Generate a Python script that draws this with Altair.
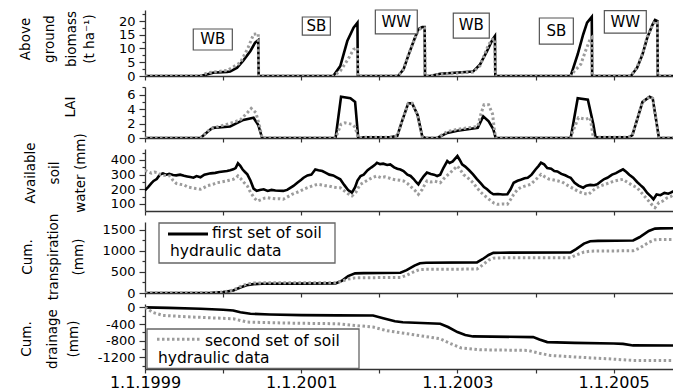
import altair as alt
import pandas as pd

FONT = "DejaVu Sans"

# ---------------- data (decimal years, values) ----------------
years = [1999, 2000, 2001, 2002, 2003, 2004, 2005]

bio_t1 = [1999.00, 1999.71, 1999.80, 1999.87, 2000.05, 2000.09, 2000.18, 2000.26, 2000.35, 2000.41, 2000.45, 2000.455,
          2001.41, 2001.50, 2001.59, 2001.67, 2001.72, 2001.725,
          2002.24, 2002.31, 2002.37, 2002.44, 2002.50, 2002.55, 2002.58, 2002.585,
          2002.65, 2002.78, 2003.20, 2003.29, 2003.38, 2003.45, 2003.48, 2003.485,
          2004.45, 2004.54, 2004.61, 2004.66, 2004.72, 2004.725,
          2005.22, 2005.30, 2005.37, 2005.43, 2005.50, 2005.53, 2005.56, 2005.565, 2005.86]
bio_v1 = [0, 0, 0.6, 1.2, 1.5, 1.6, 3.0, 5.7, 9.1, 12.1, 13.0, 0,
          0, 3.6, 12.7, 17.6, 19.4, 0,
          0, 2.4, 7.3, 12.7, 17.0, 17.8, 17.8, 0,
          0, 0.8, 1.6, 4.2, 9.1, 13.3, 14.5, 0,
          0, 7.9, 15.1, 19.4, 21.5, 0,
          0, 3.0, 7.9, 13.9, 18.8, 20.4, 20.0, 0, 0]
bio_t2 = [1999.00, 1999.71, 1999.80, 2000.05, 2000.22, 2000.32, 2000.39, 2000.45, 2000.455,
          2001.41, 2001.50, 2001.60, 2001.67, 2001.72, 2001.725,
          2002.24, 2002.31, 2002.37, 2002.44, 2002.50, 2002.55, 2002.58, 2002.585,
          2002.65, 2002.78, 2003.20, 2003.29, 2003.40, 2003.45, 2003.48, 2003.485,
          2004.45, 2004.48, 2004.58, 2004.64, 2004.70, 2004.72, 2004.725,
          2005.22, 2005.30, 2005.37, 2005.43, 2005.50, 2005.53, 2005.56, 2005.565, 2005.86]
bio_v2 = [0, 0, 1.2, 2.0, 4.8, 10.3, 15.2, 15.4, 0,
          0, 1.8, 6.1, 9.7, 10.3, 0,
          0, 2.6, 7.5, 12.5, 16.8, 17.5, 17.5, 0,
          0, 0.7, 1.4, 3.8, 11.5, 13.3, 13.5, 0,
          0, 1.2, 4.3, 9.1, 13.5, 14.0, 0,
          0, 3.2, 8.2, 14.2, 18.6, 19.8, 19.6, 0, 0]

lai_t1 = [1999.00, 1999.71, 1999.84, 1999.87, 2000.09, 2000.26, 2000.39, 2000.45, 2000.50,
          2001.44, 2001.51, 2001.63, 2001.69, 2001.73, 2001.76, 2001.80, 2002.14, 2002.23, 2002.29, 2002.37,
          2002.42, 2002.49, 2002.55, 2002.59, 2002.74, 2002.87, 2003.00, 2003.26, 2003.33, 2003.40, 2003.46,
          2003.49, 2004.45, 2004.54, 2004.67, 2004.74, 2004.77, 2004.80, 2005.19, 2005.24, 2005.37, 2005.46,
          2005.50, 2005.58, 2005.86]
lai_v1 = [0, 0, 1.2, 1.4, 1.6, 2.5, 2.8, 1.8, 0,
          0, 5.7, 5.5, 5.0, 0, 0, 0.1, 0.1, 0.3, 2.3, 4.8,
          4.8, 3.2, 0.2, 0, 0, 0.7, 1.0, 1.4, 3.0, 2.3, 1.2,
          0, 0, 5.5, 5.3, 1.9, 0, 0.1, 0.1, 0.4, 5.0, 5.7,
          5.5, 0, 0]
lai_t2 = [1999.00, 1999.71, 1999.84, 2000.05, 2000.22, 2000.31, 2000.36, 2000.42, 2000.47, 2000.50,
          2001.44, 2001.51, 2001.56, 2001.65, 2001.69, 2001.73, 2001.76, 2001.80, 2002.14, 2002.23, 2002.29,
          2002.37, 2002.42, 2002.49, 2002.55, 2002.59, 2002.74, 2002.87, 2003.00, 2003.26, 2003.30, 2003.34,
          2003.40, 2003.45, 2003.47, 2003.49, 2004.45, 2004.48, 2004.55, 2004.64, 2004.70, 2004.74, 2004.77,
          2004.80, 2005.19, 2005.24, 2005.37, 2005.46, 2005.50, 2005.58, 2005.86]
lai_v2 = [0, 0, 1.3, 1.9, 2.5, 3.5, 4.1, 3.5, 1.5, 0,
          0, 1.9, 2.1, 1.9, 1.5, 0, 0, 0.1, 0.1, 0.3, 2.3,
          4.8, 4.8, 3.2, 0.2, 0, 0, 0.9, 1.2, 1.6, 3.3, 4.6,
          4.6, 3.3, 1.4, 0, 0, 1.0, 2.8, 2.6, 2.8, 0, 0,
          0.1, 0.1, 0.4, 5.0, 5.7, 5.5, 0, 0]

sw_t1 = [1999.00, 1999.04, 1999.08, 1999.11, 1999.15, 1999.19, 1999.23, 1999.27, 1999.31, 1999.36, 1999.40,
         1999.45, 1999.50, 1999.54, 1999.58, 1999.62, 1999.66, 1999.71, 1999.76, 1999.80, 1999.84, 1999.90,
         1999.95, 2000.00, 2000.05, 2000.09, 2000.13, 2000.16, 2000.19, 2000.22, 2000.25, 2000.28, 2000.31,
         2000.35, 2000.39, 2000.43, 2000.47, 2000.52, 2000.57, 2000.62, 2000.67, 2000.72, 2000.77, 2000.82,
         2000.86, 2000.90, 2000.95, 2001.00, 2001.03, 2001.08, 2001.13, 2001.18, 2001.22, 2001.27, 2001.31,
         2001.36, 2001.41, 2001.46, 2001.50, 2001.55, 2001.60, 2001.65, 2001.69, 2001.72, 2001.76, 2001.80,
         2001.85, 2001.90, 2001.94, 2001.97, 2002.01, 2002.05, 2002.10, 2002.14, 2002.19, 2002.23, 2002.27,
         2002.31, 2002.36, 2002.40, 2002.44, 2002.47, 2002.50, 2002.53, 2002.57, 2002.61, 2002.66, 2002.70,
         2002.74, 2002.78, 2002.82, 2002.87, 2002.90, 2002.94, 2003.00, 2003.03, 2003.06, 2003.10, 2003.15,
         2003.20, 2003.25, 2003.30, 2003.34, 2003.38, 2003.42, 2003.46, 2003.52, 2003.58, 2003.64, 2003.68,
         2003.72, 2003.77, 2003.81, 2003.86, 2003.90, 2003.95, 2004.00, 2004.04, 2004.07, 2004.11, 2004.15,
         2004.20, 2004.24, 2004.28, 2004.33, 2004.38, 2004.42, 2004.45, 2004.50, 2004.55, 2004.61, 2004.65,
         2004.70, 2004.75, 2004.79, 2004.84, 2004.88, 2004.92, 2004.98, 2005.03, 2005.08, 2005.12, 2005.16,
         2005.20, 2005.25, 2005.30, 2005.34, 2005.38, 2005.43, 2005.48, 2005.51, 2005.55, 2005.60, 2005.65,
         2005.70, 2005.73, 2005.76, 2005.80, 2005.86]
sw_v1 = [192, 215, 240, 257, 270, 300, 309, 300, 305, 298, 295,
         300, 292, 288, 284, 279, 290, 282, 300, 305, 309, 312,
         318, 322, 325, 330, 336, 345, 377, 360, 335, 318, 302,
         260, 205, 190, 195, 200, 189, 196, 192, 190, 189, 196,
         210, 223, 245, 265, 279, 295, 300, 336, 330, 325, 314,
         300, 295, 280, 268, 230, 195, 177, 215, 260, 291, 300,
         330, 350, 365, 381, 372, 375, 366, 370, 350, 340, 335,
         325, 300, 291, 270, 250, 234, 260, 290, 314, 305, 300,
         291, 300, 345, 393, 380, 390, 427, 400, 370, 355, 330,
         302, 270, 240, 215, 200, 180, 166, 168, 165, 166, 200,
         245, 258, 265, 275, 279, 300, 335, 360, 381, 370, 345,
         340, 325, 322, 305, 296, 285, 279, 245, 225, 211, 225,
         230, 228, 234, 255, 270, 279, 300, 310, 325, 336, 320,
         300, 279, 250, 230, 211, 175, 150, 132, 165, 160, 175,
         170, 177, 185, 192, 200]
sw_t2 = [1999.00, 1999.04, 1999.08, 1999.12, 1999.16, 1999.20, 1999.25, 1999.29, 1999.32, 1999.36, 1999.40,
         1999.45, 1999.50, 1999.55, 1999.60, 1999.65, 1999.71, 1999.75, 1999.80, 1999.84, 1999.87, 1999.92,
         1999.98, 2000.03, 2000.08, 2000.13, 2000.17, 2000.19, 2000.23, 2000.27, 2000.31, 2000.35, 2000.40,
         2000.44, 2000.49, 2000.53, 2000.57, 2000.62, 2000.67, 2000.72, 2000.77, 2000.83, 2000.88, 2000.94,
         2000.99, 2001.05, 2001.10, 2001.15, 2001.21, 2001.26, 2001.31, 2001.36, 2001.41, 2001.46, 2001.50,
         2001.55, 2001.60, 2001.65, 2001.70, 2001.73, 2001.76, 2001.81, 2001.86, 2001.91, 2001.97, 2002.02,
         2002.07, 2002.12, 2002.16, 2002.21, 2002.26, 2002.31, 2002.36, 2002.41, 2002.46, 2002.50, 2002.55,
         2002.58, 2002.61, 2002.66, 2002.71, 2002.78, 2002.82, 2002.87, 2002.91, 2002.95, 2003.00, 2003.04,
         2003.08, 2003.14, 2003.20, 2003.25, 2003.30, 2003.34, 2003.38, 2003.43, 2003.47, 2003.51, 2003.57,
         2003.64, 2003.68, 2003.72, 2003.77, 2003.82, 2003.88, 2003.94, 2003.98, 2004.03, 2004.07, 2004.12,
         2004.17, 2004.22, 2004.29, 2004.34, 2004.40, 2004.45, 2004.50, 2004.55, 2004.61, 2004.68, 2004.73,
         2004.78, 2004.84, 2004.89, 2004.95, 2005.00, 2005.06, 2005.12, 2005.17, 2005.23, 2005.30, 2005.35,
         2005.40, 2005.43, 2005.48, 2005.53, 2005.58, 2005.63, 2005.68, 2005.73, 2005.78, 2005.86]
sw_v2 = [330, 320, 310, 318, 314, 300, 295, 292, 291, 260, 240,
         234, 230, 215, 210, 205, 200, 210, 225, 230, 234, 245,
         250, 255, 262, 268, 280, 291, 270, 245, 223, 180, 140,
         120, 130, 140, 143, 138, 135, 136, 132, 150, 165, 178,
         189, 205, 215, 225, 234, 230, 225, 222, 215, 211, 211,
         190, 170, 155, 180, 210, 234, 250, 265, 280, 291, 280,
         285, 278, 270, 265, 262, 257, 240, 215, 190, 166, 200,
         230, 257, 250, 255, 245, 270, 295, 314, 335, 359, 330,
         300, 275, 245, 210, 180, 160, 143, 120, 105, 98, 100,
         98, 130, 165, 200, 215, 225, 234, 255, 280, 302, 285,
         270, 265, 257, 250, 230, 215, 200, 185, 172, 166, 190,
         210, 225, 234, 245, 255, 262, 268, 250, 230, 211, 180,
         150, 132, 100, 75, 110, 120, 140, 150, 170, 189]

tr_t1 = [1999.00, 1999.60, 1999.85, 2000.00, 2000.13, 2000.22, 2000.30, 2000.39, 2000.50, 2001.00, 2001.44,
         2001.52, 2001.60, 2001.69, 2001.80, 2002.27, 2002.35, 2002.45, 2002.52, 2002.60, 2003.25, 2003.32,
         2003.40, 2003.46, 2003.55, 2004.45, 2004.52, 2004.62, 2004.70, 2004.80, 2005.25, 2005.33, 2005.45,
         2005.53, 2005.60, 2005.86]
tr_v1 = [0, 0, 5, 20, 60, 130, 185, 210, 218, 222, 228,
         290, 400, 465, 472, 478, 540, 650, 705, 715, 725, 800,
         900, 950, 955, 962, 1040, 1170, 1225, 1235, 1245, 1320, 1470,
         1525, 1532, 1535]
tr_t2 = tr_t1
tr_v2 = [0, 0, 8, 25, 70, 150, 210, 235, 240, 242, 245,
         280, 330, 358, 362, 368, 420, 510, 555, 560, 568, 660,
         780, 825, 832, 838, 900, 970, 990, 995, 1000, 1060, 1200,
         1260, 1268, 1272]

dr_t1 = [1999.00, 1999.30, 1999.71, 2000.00, 2000.13, 2000.22, 2000.35, 2000.60, 2001.00, 2001.46, 2001.92,
         2002.05, 2002.20, 2002.30, 2002.78, 2002.88, 2003.00, 2003.10, 2003.20, 2003.97, 2004.05, 2004.15,
         2004.50, 2005.00, 2005.12, 2005.25, 2005.86]
dr_v1 = [0, -10, -31, -55, -72, -115, -152, -170, -185, -192, -195,
         -260, -330, -355, -392, -470, -592, -660, -696, -712, -770, -832,
         -850, -865, -875, -912, -915]
dr_t2 = [1999.00, 1999.03, 1999.10, 1999.23, 1999.60, 2000.13, 2000.31, 2000.80, 2001.46, 2001.92, 2002.10,
         2002.36, 2002.78, 2002.90, 2003.04, 2003.29, 2003.90, 2004.05, 2004.19, 2004.60, 2004.92, 2005.25,
         2005.86]
dr_v2 = [0, -31, -120, -192, -230, -272, -352, -375, -392, -472, -560,
         -632, -752, -860, -968, -1016, -1032, -1100, -1152, -1200, -1232, -1272,
         -1275]

crops = ["WB", "SB", "WW", "WB", "SB", "WW"]
crop_t = [1999.868, 2001.194, 2002.218, 2003.177, 2004.267, 2005.150]
crop_v = [13.3, 18.2, 19.6, 18.4, 16.4, 19.7]
crop_t0 = [1999.618, 2001.014, 2001.949, 2002.947, 2004.049, 2004.881]
crop_t1 = [2000.118, 2001.373, 2002.486, 2003.408, 2004.484, 2005.418]
crop_v0 = [17.1, 21.45, 24.0, 22.9, 21.1, 23.8]
crop_v1 = [9.45, 14.9, 15.3, 13.8, 11.6, 15.6]

titles = {
    "bio": ["Above", "ground", "biomass", "(t ha\u207b\u00b9)"],
    "lai": ["LAI"],
    "sw": ["Available", "soil", "water (mm)"],
    "tr": ["Cum.", "transpiration", "(mm)"],
    "dr": ["Cum.", "drainage", "(mm)"],
}

legend1 = ["first set of soil", "hydraulic data"]
legend2 = ["second set of soil", "hydraulic data"]

# ---------------- chart construction ----------------
W = 528
X_DOMAIN = [1999, 2005.76]
one = pd.DataFrame({"k": [0]})


def frame(t1, v1, t2, v2):
    rows = []
    for i, (t, v) in enumerate(zip(t1, v1)):
        rows.append({"t": t, "v": v, "s": "first", "i": i})
    for i, (t, v) in enumerate(zip(t2, v2)):
        rows.append({"t": t, "v": v, "s": "second", "i": i})
    return pd.DataFrame(rows)


def xaxis(labels):
    if labels:
        return alt.Axis(values=years, title=None, tickSize=4, labelFontSize=16, labelPadding=1,
                        labelOverlap=False, labelFlush=False,
                        labelExpr="datum.value % 2 === 1 ? '1.1.' + datum.value : ''")
    return alt.Axis(values=years, title=None, tickSize=4, labels=False)


def title_layers(lines, xs, yc):
    out = []
    for line, xr in zip(lines, xs):
        out.append(alt.Chart(one).mark_text(font=FONT, fontSize=13.5, angle=270, align="center",
                                            baseline="middle", color="black").encode(
            x=alt.value(xr), y=alt.value(yc), text=alt.value(line)))
    return out


def legend_layers(box, sample, sample_style, txt1, txt2, lab):
    b = alt.Chart(one).mark_rect(fill="white", stroke="#666", strokeWidth=1.3).encode(
        x=alt.value(box[0]), x2=alt.value(box[1]), y=alt.value(box[2]), y2=alt.value(box[3]))
    r = alt.Chart(one).mark_rule(**sample_style).encode(
        x=alt.value(sample[0]), x2=alt.value(sample[1]), y=alt.value(sample[2]))
    t1 = alt.Chart(one).mark_text(font=FONT, fontSize=15.5, align="left", baseline="alphabetic").encode(
        x=alt.value(txt1[0]), y=alt.value(txt1[1]), text=alt.value(lab[0]))
    t2 = alt.Chart(one).mark_text(font=FONT, fontSize=15.5, align="left", baseline="alphabetic").encode(
        x=alt.value(txt2[0]), y=alt.value(txt2[1]), text=alt.value(lab[1]))
    return [b, r, t1, t2]


def panel(df, height, ydom, yvals, major, labels=False, extra=(), crop=False):
    x = alt.X("t:Q", scale=alt.Scale(domain=X_DOMAIN, nice=False, zero=False), axis=xaxis(labels))
    y = alt.Y("v:Q", scale=alt.Scale(domain=ydom, nice=False, zero=False),
              axis=alt.Axis(values=yvals, title=None, labelOverlap=False, labelPadding=4,
                            labelExpr=f"datum.value % {major} === 0 ? '' + datum.value : ''",
                            tickSize={"condition": {"test": f"datum.value % {major} === 0", "value": 6},
                                      "value": 3}))
    base = alt.Chart(df).encode(x=x, y=y, order="i:Q")
    black = base.transform_filter("datum.s === 'first'").mark_line(color="black", strokeWidth=2.6, clip=True)
    gray = base.transform_filter("datum.s === 'second'").mark_line(
        color="#9c9c9c", strokeWidth=3, strokeDash=[2.5, 2.5], clip=True)
    layers = [black, gray]
    if crop:
        box_df = pd.DataFrame({"t": crop_t0, "t2": crop_t1, "v": crop_v0, "v2": crop_v1})
        txt_df = pd.DataFrame({"t": crop_t, "v": crop_v, "crop": crops})
        layers.append(alt.Chart(box_df).mark_rect(fill="white", stroke="#555", strokeWidth=1.2).encode(
            x=x, x2="t2:Q", y=y, y2="v2:Q"))
        layers.append(alt.Chart(txt_df).mark_text(font=FONT, fontSize=15, baseline="middle",
                                                  color="black").encode(x=x, y=y, text="crop:N"))
    layers.extend(extra)
    return alt.layer(*layers).properties(width=W, height=height)


p1 = panel(frame(bio_t1, bio_v1, bio_t2, bio_v2), 66, [0, 24], [v * 2.5 for v in range(0, 10)], 5,
           crop=True, extra=title_layers(titles["bio"], [-119, -95, -73, -55], 29))
p2 = panel(frame(lai_t1, lai_v1, lai_t2, lai_v2), 51, [0, 7.06], list(range(0, 8)), 2,
           extra=title_layers(titles["lai"], [-74], 20))
p3 = panel(frame(sw_t1, sw_v1, sw_t2, sw_v2), 62, [52, 475], list(range(100, 451, 50)), 100,
           extra=title_layers(titles["sw"], [-114, -90, -64], 24))
p4 = panel(frame(tr_t1, tr_v1, tr_t2, tr_v2), 71, [0, 1682], list(range(0, 1751, 250)), 500,
           extra=title_layers(titles["tr"], [-117, -91, -66], 35)
           + legend_layers((14, 190, 1, 41), (23, 63, 12), {"color": "black", "strokeWidth": 3},
                           (67, 16.3), (25, 34), legend1))
p5 = panel(frame(dr_t1, dr_v1, dr_t2, dr_v2), 65, [-1478, 82], list(range(-1400, 1, 200)), 400,
           labels=True,
           extra=title_layers(titles["dr"], [-118, -92, -71], 35)
           + legend_layers((2, 214, 25, 64.5), (12, 55, 35.3),
                           {"color": "#9c9c9c", "strokeWidth": 3, "strokeDash": [2.5, 2.5]},
                           (60, 42), (13, 58.7), legend2))

chart = alt.vconcat(p1, p2, p3, p4, p5, spacing=11, bounds="flush").properties(
    padding={"left": 10, "top": 0, "right": 0, "bottom": 0}
).configure_view(stroke=None).configure_axis(
    grid=False, domainColor="#333", tickColor="#333", domainWidth=1.3, tickWidth=1.2,
    labelColor="black", labelFont=FONT, labelFontSize=13
)

chart.save("out.html", embed_options={"renderer": "svg", "actions": False})
